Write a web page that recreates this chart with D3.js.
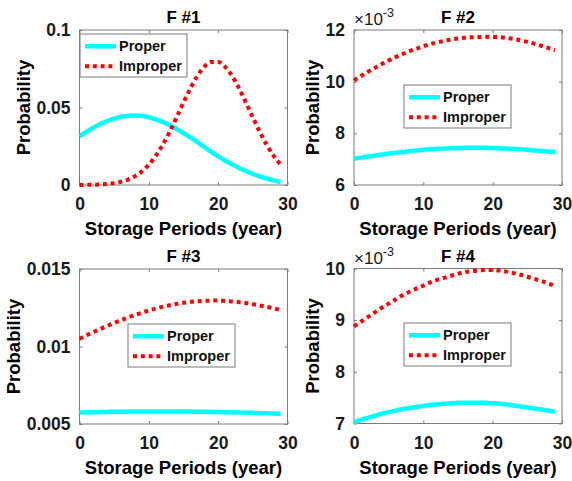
<!DOCTYPE html>
<html>
<head>
<meta charset="utf-8">
<script src="https://d3js.org/d3.v7.min.js"></script>
<style>
  body { margin: 0; background: #fff; }
  text { font-family: "Liberation Sans", Arial, sans-serif; }
</style>
</head>
<body>
<script>
// ---- data ----
var years = [0,1,2,3,4,5,6,7,8,9,10,11,12,13,14,15,16,17,18,19,20,21,22,23,24,25,26,27,28,29];
var xTicks = [0, 10, 20, 30];
var seriesNames = ["Proper", "Improper"];
var titles = ["F #1", "F #2", "F #3", "F #4"];

var f1Proper = [0.0314,0.0343,0.0370,0.0393,0.0413,0.0428,0.0440,0.0447,0.0449,0.0446,0.0437,0.0424,0.0407,0.0386,0.0362,
                0.0335,0.0307,0.0277,0.0245,0.0214,0.0185,0.0158,0.0133,0.0110,0.0090,0.0072,0.0056,0.0042,0.0030,0.0019];
var f1Improper = [0.0000,0.0001,0.0002,0.0003,0.0007,0.0012,0.0021,0.0035,0.0057,0.0088,0.0131,0.0188,0.0259,0.0343,0.0436,
                  0.0532,0.0625,0.0704,0.0763,0.0794,0.0794,0.0763,0.0704,0.0625,0.0532,0.0436,0.0343,0.0259,0.0188,0.0131];

var f2Proper = [0.00702,0.00706,0.00710,0.00714,0.00718,0.00722,0.00725,0.00728,0.00731,0.00734,0.00736,0.00738,0.00740,0.00741,0.00742,
                0.00743,0.00744,0.00744,0.00744,0.00744,0.00743,0.00742,0.00741,0.00740,0.00738,0.00736,0.00734,0.00732,0.00730,0.00728];
var f2Improper = [0.01005,0.01022,0.01038,0.01053,0.01068,0.01082,0.01095,0.01107,0.01118,0.01128,0.01137,0.01145,0.01152,0.01158,0.01163,
                  0.01167,0.01170,0.01172,0.01173,0.01174,0.01173,0.01172,0.01169,0.01165,0.01160,0.01154,0.01147,0.01139,0.01131,0.01122];

var f3Proper = [0.00574,0.00575,0.00576,0.00577,0.00578,0.00579,0.00579,0.00580,0.00580,0.00581,0.00581,0.00581,0.00581,0.00581,0.00581,
                0.00580,0.00580,0.00579,0.00579,0.00578,0.00577,0.00576,0.00575,0.00574,0.00573,0.00572,0.00570,0.00569,0.00567,0.00566];
var f3Improper = [0.01050,0.01072,0.01093,0.01113,0.01133,0.01152,0.01170,0.01187,0.01203,0.01218,0.01232,0.01245,0.01256,0.01266,0.01275,
                  0.01282,0.01288,0.01292,0.01295,0.01296,0.01296,0.01294,0.01291,0.01286,0.01280,0.01273,0.01265,0.01256,0.01246,0.01236];

var f4Proper = [0.00702,0.00707,0.00711,0.00715,0.00719,0.00722,0.00725,0.00728,0.00730,0.00732,0.00734,0.00736,0.00737,0.00738,0.00739,
                0.00740,0.00740,0.00740,0.00740,0.00740,0.00739,0.00738,0.00737,0.00735,0.00733,0.00731,0.00729,0.00727,0.00725,0.00723];
var f4Improper = [0.00888,0.00897,0.00906,0.00915,0.00924,0.00932,0.00940,0.00948,0.00955,0.00961,0.00967,0.00973,0.00978,0.00982,0.00986,
                  0.00990,0.00993,0.00995,0.00996,0.00997,0.00997,0.00996,0.00994,0.00991,0.00988,0.00984,0.00980,0.00976,0.00971,0.00966];

var yTicks1 = [0, 0.05, 0.1],              yTickLabels1 = ["0", "0.05", "0.1"];
var yTicks2 = [0.006, 0.008, 0.010, 0.012], yTickLabels2 = ["6", "8", "10", "12"];
var yTicks3 = [0.005, 0.01, 0.015],        yTickLabels3 = ["0.005", "0.01", "0.015"];
var yTicks4 = [0.007, 0.008, 0.009, 0.010], yTickLabels4 = ["7", "8", "9", "10"];

// ---- layout ----
var W = 572, H = 481;
var svg = d3.select("body").append("svg").attr("width", W).attr("height", H);

var panels = [
  {title: titles[0], proper: f1Proper, improper: f1Improper, domain: [0, 0.1], ticks: yTicks1, labels: yTickLabels1, exp: false,
   x0: 79.5, x1: 287.5, y0: 30, y1: 185, leg: [80, 34], ylabX: 29.5},
  {title: titles[1], proper: f2Proper, improper: f2Improper, domain: [0.006, 0.012], ticks: yTicks2, labels: yTickLabels2, exp: true,
   x0: 354, x1: 562, y0: 30, y1: 185, leg: [404, 85], ylabX: 319},
  {title: titles[2], proper: f3Proper, improper: f3Improper, domain: [0.005, 0.015], ticks: yTicks3, labels: yTickLabels3, exp: false,
   x0: 79.5, x1: 287.5, y0: 269, y1: 424, leg: [128, 324], ylabX: 19.5},
  {title: titles[3], proper: f4Proper, improper: f4Improper, domain: [0.007, 0.010], ticks: yTicks4, labels: yTickLabels4, exp: true,
   x0: 354, x1: 562, y0: 268.5, y1: 423.5, leg: [404, 323], ylabX: 319}
];

var cyan = "#00ffff", red = "#ff0000";
var boxColor = "#7a7a7a";
var tickFs = 17.5;

function styleAxis(g) {
  g.select(".domain").remove();
  g.selectAll(".tick line").attr("stroke", boxColor);
  g.selectAll(".tick text")
    .attr("font-size", tickFs).attr("font-weight", "bold").attr("fill", "#1a1a1a")
    .style("font-family", "'Liberation Sans', Arial, sans-serif");
}

panels.forEach(function(p) {
  var x = d3.scaleLinear().domain([0, 30]).range([p.x0, p.x1]);
  var y = d3.scaleLinear().domain(p.domain).range([p.y1, p.y0]);
  var g = svg.append("g");

  // ticks (inward, all four sides)
  g.append("g").attr("transform", "translate(0," + p.y1 + ")")
    .call(d3.axisBottom(x).tickValues(xTicks).tickSizeInner(-3).tickSizeOuter(0).tickPadding(12.6))
    .call(styleAxis);
  g.append("g").attr("transform", "translate(0," + p.y0 + ")")
    .call(d3.axisTop(x).tickValues(xTicks).tickSizeInner(-3).tickSizeOuter(0).tickFormat(""))
    .call(styleAxis);
  g.append("g").attr("transform", "translate(" + p.x0 + ",0)")
    .call(d3.axisLeft(y).tickValues(p.ticks).tickSizeInner(-3).tickSizeOuter(0).tickPadding(9)
      .tickFormat(function(d, i) { return p.labels[i]; }))
    .call(styleAxis);
  g.append("g").attr("transform", "translate(" + p.x1 + ",0)")
    .call(d3.axisRight(y).tickValues(p.ticks).tickSizeInner(-3).tickSizeOuter(0).tickFormat(""))
    .call(styleAxis);

  g.append("rect")
    .attr("x", p.x0).attr("y", p.y0)
    .attr("width", p.x1 - p.x0).attr("height", p.y1 - p.y0)
    .attr("fill", "none").attr("stroke", boxColor).attr("stroke-width", 1);

  var line = d3.line()
    .x(function(d, i) { return x(years[i]); })
    .y(function(d) { return y(d); })
    .curve(d3.curveMonotoneX);

  g.append("path").datum(p.proper).attr("d", line)
    .attr("fill", "none").attr("stroke", cyan).attr("stroke-width", 4.5);
  g.append("path").datum(p.improper).attr("d", line)
    .attr("fill", "none").attr("stroke", red).attr("stroke-width", 4)
    .attr("stroke-dasharray", "4,3.8");

  // title
  g.append("text")
    .attr("x", (p.x0 + p.x1) / 2).attr("y", p.y0 - 7)
    .attr("text-anchor", "middle").attr("font-size", 17).attr("font-weight", "bold")
    .text(p.title);

  // exponent
  if (p.exp) {
    var t = g.append("text").attr("x", p.x0).attr("y", p.y0 - 5)
      .attr("font-size", 17).attr("fill", "#1a1a1a");
    t.append("tspan").text("\u00d710");
    t.append("tspan").attr("dy", -8).attr("font-size", 12.5).text("-3");
  }

  // axis labels
  g.append("text")
    .attr("x", (p.x0 + p.x1) / 2).attr("y", p.y1 + 50)
    .attr("text-anchor", "middle").attr("font-size", 18.5).attr("font-weight", "bold")
    .text("Storage Periods (year)");
  g.append("text")
    .attr("transform", "translate(" + p.ylabX + "," + ((p.y0 + p.y1) / 2) + ") rotate(-90)")
    .attr("text-anchor", "middle").attr("font-size", 18.5).attr("font-weight", "bold")
    .text("Probability");

  // legend
  var lx = p.leg[0], ly = p.leg[1];
  var leg = g.append("g").attr("transform", "translate(" + lx + "," + ly + ")");
  leg.append("rect").attr("width", 107).attr("height", 43)
    .attr("fill", "#fff").attr("stroke", boxColor).attr("stroke-width", 1);
  seriesNames.forEach(function(name, i) {
    var cy = 12.3 + i * 20;
    leg.append("line").attr("x1", 5).attr("x2", 36).attr("y1", cy).attr("y2", cy)
      .attr("stroke", i === 0 ? cyan : red)
      .attr("stroke-width", i === 0 ? 4.5 : 4)
      .attr("stroke-dasharray", i === 0 ? null : "4,3.8");
    leg.append("text").attr("x", 39).attr("y", cy + 5)
      .attr("font-size", 14.5).attr("font-weight", "bold").attr("fill", "#111")
      .text(name);
  });
});
</script>
</body>
</html>
